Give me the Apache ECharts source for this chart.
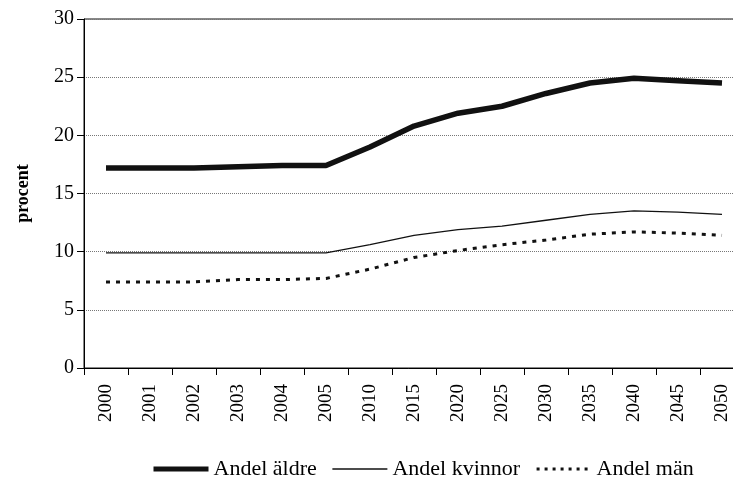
<!DOCTYPE html>
<html>
<head>
<meta charset="utf-8">
<script src="https://cdn.jsdelivr.net/npm/echarts@6/dist/echarts.min.js"></script>
<style>
  html, body { margin: 0; padding: 0; background: #fff; }
  #chart { width: 733px; height: 477px; }
</style>
</head>
<body>
<div id="chart"></div>
<script>
  // kategorier (år)
  const years = ['2000', '2001', '2002', '2003', '2004', '2005', '2010', '2015',
                 '2020', '2025', '2030', '2035', '2040', '2045', '2050'];
  const andelAldre   = [17.2, 17.2, 17.2, 17.3, 17.4, 17.4, 19.0, 20.8, 21.9, 22.5, 23.6, 24.5, 24.9, 24.7, 24.5];
  const andelKvinnor = [9.9, 9.9, 9.9, 9.9, 9.9, 9.9, 10.6, 11.4, 11.9, 12.2, 12.7, 13.2, 13.5, 13.4, 13.2];
  const andelMan     = [7.4, 7.4, 7.4, 7.6, 7.6, 7.7, 8.5, 9.5, 10.1, 10.6, 11.0, 11.5, 11.7, 11.6, 11.4];
  const yTicks = [0, 5, 10, 15, 20, 25, 30];

  const serif = '"Liberation Serif", "DejaVu Serif", serif';
  const chart = echarts.init(document.getElementById('chart'), null, { renderer: 'canvas' });

  chart.setOption({
    backgroundColor: '#fff',
    animation: false,
    textStyle: { fontFamily: serif, color: '#000' },
    grid: {
      left: 84, top: 19, height: 349, width: 44 * years.length,
      outerBoundsMode: 'none',
      containLabel: false,
      show: true, borderColor: '#111', borderWidth: 1
    },
    legend: {
      left: 146, top: 453,
      itemWidth: 55, itemHeight: 14, itemGap: 15,
      itemStyle: { opacity: 0 },
      textStyle: { fontFamily: serif, fontSize: 22, color: '#000' },
      data: [
        { name: 'Andel äldre', lineStyle: { width: 5, color: '#111' } },
        { name: 'Andel kvinnor', lineStyle: { width: 1.3, color: '#111' } },
        { name: 'Andel män', lineStyle: { width: 3, color: '#111', type: [3, 5] } }
      ]
    },
    xAxis: {
      type: 'category',
      data: years,
      boundaryGap: true,
      axisLine: { lineStyle: { color: '#000', width: 1 } },
      axisTick: { show: true, length: 7, inside: false, lineStyle: { color: '#000' } },
      axisLabel: { rotate: 90, fontSize: 19, margin: 16, color: '#000', fontFamily: serif, interval: 0 },
      splitLine: { show: false }
    },
    yAxis: {
      type: 'value',
      min: yTicks[0], max: yTicks[yTicks.length - 1], interval: 5,
      name: 'procent',
      nameLocation: 'middle',
      nameGap: 52,
      nameRotate: 90,
      nameTextStyle: { fontFamily: serif, fontSize: 18, fontWeight: 'bold', color: '#000' },
      axisLine: { show: true, lineStyle: { color: '#000', width: 1 } },
      axisTick: { show: true, length: 7, lineStyle: { color: '#000' } },
      axisLabel: { fontSize: 20, margin: 10, color: '#000', fontFamily: serif },
      splitLine: { show: true, lineStyle: { color: '#777', type: [1, 1], width: 1 } }
    },
    series: [
      {
        name: 'Andel äldre', type: 'line', data: andelAldre,
        symbol: 'none',
        lineStyle: { color: '#111', width: 5.5 },
        itemStyle: { color: '#111' }
      },
      {
        name: 'Andel kvinnor', type: 'line', data: andelKvinnor,
        symbol: 'none',
        lineStyle: { color: '#111', width: 1.3 },
        itemStyle: { color: '#111' }
      },
      {
        name: 'Andel män', type: 'line', data: andelMan,
        symbol: 'none',
        lineStyle: { color: '#111', width: 3, type: [4, 6] },
        itemStyle: { color: '#111' }
      }
    ]
  });
</script>
</body>
</html>
